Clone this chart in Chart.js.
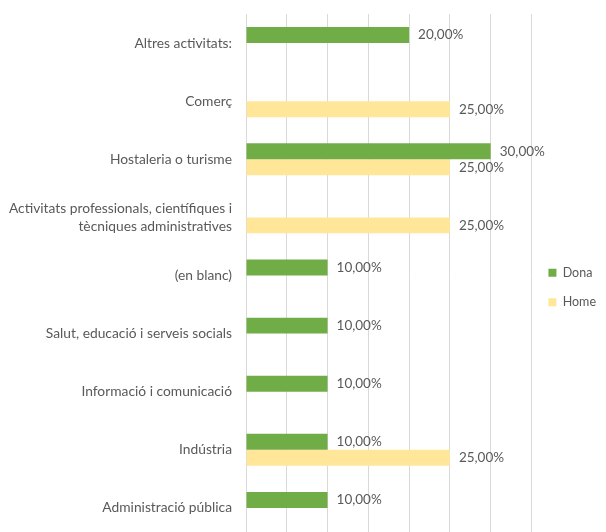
<!DOCTYPE html>
<html>
<head>
<meta charset="utf-8">
<script src="https://cdn.jsdelivr.net/npm/chart.js@4/dist/chart.umd.min.js"></script>
<style>
  html, body { margin: 0; padding: 0; background: #fff; overflow: hidden; }
  #wrap { width: 606px; height: 540px; position: relative; }
</style>
</head>
<body>
<div id="wrap"><canvas id="chart"></canvas></div>
<script>
// chart data
const CATEGORIES = [
  "Altres activitats:",
  "Comerç",
  "Hostaleria o turisme",
  ["Activitats professionals, científiques i", "tècniques administratives"],
  "(en blanc)",
  "Salut, educació i serveis socials",
  "Informació i comunicació",
  "Indústria",
  "Administració pública",
];
const DONA = [20, null, 30, null, 10, 10, 10, 10, 10];
const HOME = [null, 25, 25, 25, null, null, null, 25, null];
const X_TICKS = [0, 5, 10, 15, 20, 25, 30, 35];

const TEXT_COLOR = "#595959";
const FONT_FAMILY = "Lato, 'Liberation Sans', sans-serif";

function formatPct(v) {
  return v.toFixed(2).replace(".", ",") + "%";
}

// value labels to the right of each bar
const barLabels = {
  id: "barLabels",
  afterDatasetsDraw(chart) {
    const ctx = chart.ctx;
    ctx.save();
    ctx.font = "13.5px " + FONT_FAMILY;
    ctx.fillStyle = TEXT_COLOR;
    ctx.textAlign = "left";
    ctx.textBaseline = "middle";
    chart.data.datasets.forEach((ds, i) => {
      const meta = chart.getDatasetMeta(i);
      meta.data.forEach((bar, idx) => {
        const v = ds.data[idx];
        if (v === null || v === undefined) return;
        ctx.fillText(formatPct(v), bar.x + 9, bar.y);
      });
    });
    ctx.restore();
  },
};

new Chart(document.getElementById("chart"), {
  type: "bar",
  data: {
    labels: CATEGORIES,
    datasets: [
      {
        label: "Dona",
        data: DONA,
        backgroundColor: "#70AD47",
        categoryPercentage: 0.55,
        barPercentage: 1,
      },
      {
        label: "Home",
        data: HOME,
        backgroundColor: "#FFE699",
        categoryPercentage: 0.55,
        barPercentage: 1,
      },
    ],
  },
  options: {
    indexAxis: "y",
    responsive: true,
    maintainAspectRatio: false,
    animation: false,
    layout: { padding: { top: 14, bottom: 3, left: 0, right: 0 } },
    scales: {
      x: {
        min: X_TICKS[0],
        max: X_TICKS[X_TICKS.length - 1],
        afterBuildTicks: (scale) => {
          scale.ticks = X_TICKS.map((v) => ({ value: v }));
        },
        afterFit: (scale) => {
          scale.height = 0;
          scale.paddingLeft = 0;
          scale.paddingRight = 0;
        },
        ticks: { display: false },
        grid: { color: "#D9D9D9", drawTicks: false },
        border: { display: false },
      },
      y: {
        afterFit: (scale) => {
          scale.width = 246;
          scale.paddingTop = 0;
          scale.paddingBottom = 0;
        },
        grid: { display: false },
        border: { display: false },
        ticks: {
          color: TEXT_COLOR,
          padding: 6,
          font: { family: FONT_FAMILY, size: 13.8, lineHeight: 1.35 },
        },
      },
    },
    plugins: {
      tooltip: { enabled: false },
      legend: {
        position: "right",
        title: { display: true, text: "", padding: 0, font: { size: 20, lineHeight: 1.2 } },
        labels: {
          boxWidth: 8,
          boxHeight: 8,
          padding: 17,
          color: TEXT_COLOR,
          font: { family: FONT_FAMILY, size: 12.5 },
        },
      },
    },
  },
  plugins: [barLabels],
});
</script>
</body>
</html>
